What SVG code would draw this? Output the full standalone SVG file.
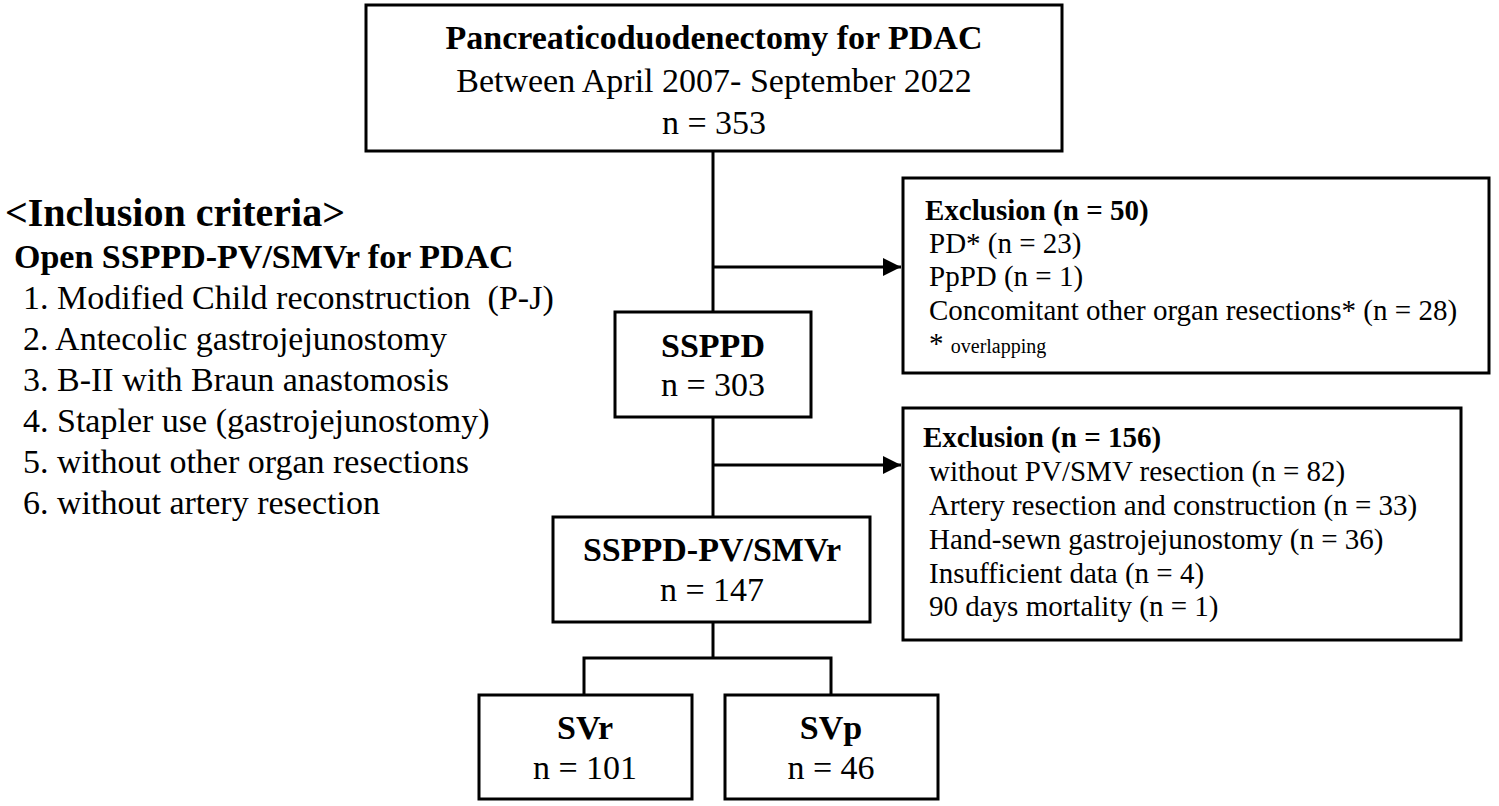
<svg xmlns="http://www.w3.org/2000/svg" width="1499" height="806" viewBox="0 0 1499 806">
<defs>
<style>
.box{fill:#fff;stroke:#000;stroke-width:3}
.ln{fill:none;stroke:#000;stroke-width:3}
text{font-family:"Liberation Serif","Times New Roman",serif;fill:#000}
.t34{font-size:34px}
.b{font-weight:bold}
.c{text-anchor:middle}
.t29{font-size:29px}
.t40{font-size:40px}
</style>
<marker id="ah" markerWidth="6" markerHeight="6" refX="6" refY="3" orient="auto" markerUnits="strokeWidth">
<path d="M0,0 L6,3 L0,6 Z" fill="#000"/>
</marker>
</defs>
<rect width="1499" height="806" fill="#fff"/>
<g id="connectors">
<line class="ln" x1="713" y1="151" x2="713" y2="312"/>
<line class="ln" x1="713" y1="267" x2="901" y2="267" marker-end="url(#ah)"/>
<line class="ln" x1="713" y1="417" x2="713" y2="517"/>
<line class="ln" x1="713" y1="465" x2="901" y2="465" marker-end="url(#ah)"/>
<line class="ln" x1="713" y1="622" x2="713" y2="658"/>
<polyline class="ln" points="584,695 584,658 831,658 831,695"/>
</g>
<g id="node-top">
<rect class="box" x="366" y="5" width="696" height="146"/>
<text class="t34 b c" x="714" y="49">Pancreaticoduodenectomy for PDAC</text>
<text class="t34 c" x="714" y="92">Between April 2007- September 2022</text>
<text class="t34 c" x="714" y="134">n = 353</text>
</g>
<g id="inclusion">
<text class="t40 b" x="5" y="226">&lt;Inclusion criteria&gt;</text>
<text class="t34 b" x="14" y="268">Open SSPPD-PV/SMVr for PDAC</text>
<text class="t34" x="23" y="309" xml:space="preserve">1. Modified Child reconstruction  (P-J)</text>
<text class="t34" x="23" y="350">2. Antecolic gastrojejunostomy</text>
<text class="t34" x="23" y="391">3. B-II with Braun anastomosis</text>
<text class="t34" x="23" y="432">4. Stapler use (gastrojejunostomy)</text>
<text class="t34" x="23" y="473">5. without other organ resections</text>
<text class="t34" x="23" y="514">6. without artery resection</text>
</g>
<g id="node-excl1">
<rect class="box" x="903" y="178" width="586" height="195"/>
<text class="t29 b" x="925" y="220">Exclusion (n = 50)</text>
<text class="t29" x="929" y="253">PD* (n = 23)</text>
<text class="t29" x="929" y="286">PpPD (n = 1)</text>
<text class="t29" x="929" y="320">Concomitant other organ resections* (n = 28)</text>
<text class="t29" x="929" y="353">* <tspan font-size="20">overlapping</tspan></text>
</g>
<g id="node-sspd">
<rect class="box" x="615" y="312" width="196" height="105"/>
<text class="t34 b c" x="713" y="357">SSPPD</text>
<text class="t34 c" x="713" y="396">n = 303</text>
</g>
<g id="node-excl2">
<rect class="box" x="903" y="408" width="558" height="232"/>
<text class="t29 b" x="923" y="447">Exclusion (n = 156)</text>
<text class="t29" x="929" y="481">without PV/SMV resection (n = 82)</text>
<text class="t29" x="929" y="515">Artery resection and construction (n = 33)</text>
<text class="t29" x="929" y="549">Hand-sewn gastrojejunostomy (n = 36)</text>
<text class="t29" x="929" y="583">Insufficient data (n = 4)</text>
<text class="t29" x="929" y="616">90 days mortality (n = 1)</text>
</g>
<g id="node-pv">
<rect class="box" x="553" y="517" width="317" height="105"/>
<text class="t34 b c" x="712" y="561">SSPPD-PV/SMVr</text>
<text class="t34 c" x="712" y="601">n = 147</text>
</g>
<g id="node-svr">
<rect class="box" x="479" y="695" width="213" height="104"/>
<text class="t34 b c" x="585" y="739">SVr</text>
<text class="t34 c" x="585" y="779">n = 101</text>
</g>
<g id="node-svp">
<rect class="box" x="725" y="695" width="213" height="104"/>
<text class="t34 b c" x="831" y="739">SVp</text>
<text class="t34 c" x="831" y="779">n = 46</text>
</g>
</svg>
